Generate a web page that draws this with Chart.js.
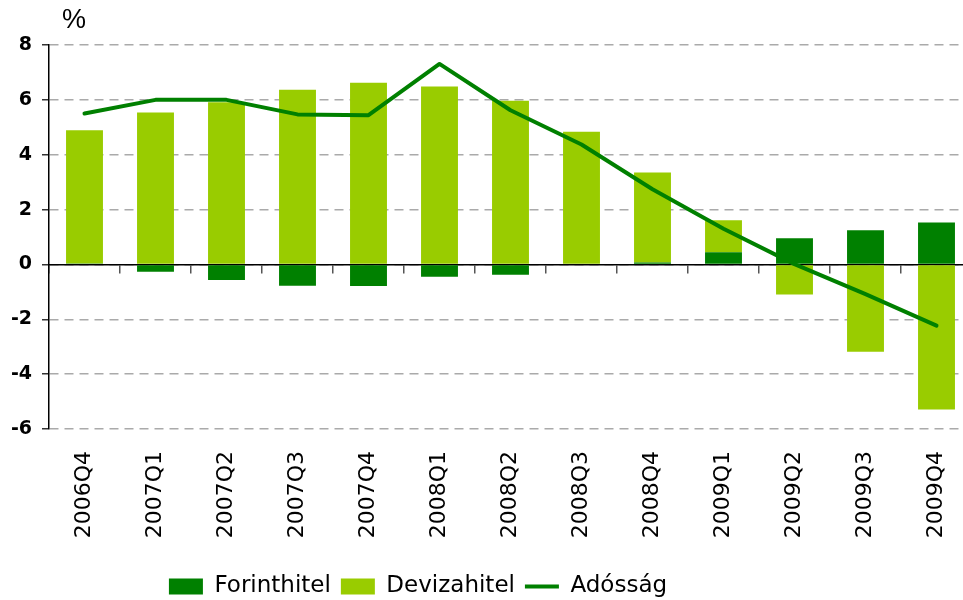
<!DOCTYPE html>
<html><head><meta charset="utf-8">
<script src="https://cdn.jsdelivr.net/npm/chart.js@4.4.1/dist/chart.umd.min.js"></script>
<style>html,body{margin:0;padding:0;overflow:hidden;background:#fff}#wrap{width:972px;height:600px}</style>
</head><body><div id="wrap"><canvas id="c" width="972" height="600"></canvas></div>
<script>
const categories = ['2006Q4','2007Q1','2007Q2','2007Q3','2007Q4','2008Q1','2008Q2','2008Q3','2008Q4','2009Q1','2009Q2','2009Q3','2009Q4'];
const forinthitel = [0.03,-0.27,-0.57,-0.78,-0.79,-0.45,-0.38,0.0,0.07,0.44,0.95,1.25,1.53];
const devizahitel = [4.86,5.54,5.91,6.37,6.62,6.49,5.97,4.84,3.28,1.17,-1.10,-3.18,-5.29];
const adossag = [5.50,6.00,6.00,5.47,5.44,7.31,5.62,4.37,2.74,1.30,0.01,-1.08,-2.23];
const seriesNames = ['Forinthitel','Devizahitel','Adósság'];
const yMin = -6, yMax = 8, yStep = 2;
const unitLabel = '%';

const DARK = '#008000', LIGHT = '#99cc00';

const percentPlugin = {
  id: 'percentLabel',
  afterDraw(chart) {
    const {ctx, chartArea} = chart;
    ctx.save();
    ctx.font = '27px "Liberation Sans", Arial, sans-serif';
    ctx.fillStyle = '#000';
    ctx.textBaseline = 'alphabetic';
    ctx.textAlign = 'left';
    ctx.fillText(unitLabel, chartArea.left + 13, chartArea.top - 17);
    ctx.restore();
  }
};
const legendShift = {
  id: 'legendShift',
  afterLayout(chart) {
    const lg = chart.legend;
    if (!lg) return;
    const dx = -68, dy = 8;
    lg.left += dx; lg.right += dx; lg.top += dy; lg.bottom += dy;
  }
};

new Chart(document.getElementById('c'), {
  type: 'bar',
  data: {
    labels: categories,
    datasets: [
      { label: seriesNames[0], data: forinthitel, backgroundColor: DARK, borderWidth: 0, pointStyle: 'rect', order: 1, xAxisID: 'x' },
      { label: seriesNames[1], data: devizahitel, backgroundColor: LIGHT, borderWidth: 0, pointStyle: 'rect', order: 1, xAxisID: 'x' },
      { type: 'line', label: seriesNames[2], data: adossag, borderColor: DARK, backgroundColor: DARK, borderWidth: 4,
        pointRadius: 0, pointHoverRadius: 0, tension: 0, pointStyle: 'line', borderCapStyle: 'round', borderJoinStyle: 'round', order: 0, xAxisID: 'x' }
    ]
  },
  options: {
    responsive: false,
    animation: false,
    devicePixelRatio: 1,
    barPercentage: 0.52,
    categoryPercentage: 1,
    layout: { padding: { top: 45, left: 0, right: 0, bottom: 0 } },
    scales: {
      x: {
        type: 'category', stacked: true, position: 'bottom', offset: true,
        grid: { display: false, drawTicks: false },
        border: { display: false },
        ticks: { maxRotation: 90, minRotation: 90, padding: 22, color: '#000',
          font: { family: '"DejaVu Sans", sans-serif', size: 22 } },
        afterFit(s) { s.height = 128; s.paddingLeft = 0; s.paddingRight = 0; }
      },
      x0: {
        type: 'category', labels: categories, position: { y: 0 }, offset: true,
        grid: { offset: true, drawOnChartArea: false, drawTicks: true, tickLength: 8, color: '#555', lineWidth: 1.5 },
        border: { display: true, color: '#000', width: 1.5 },
        ticks: { display: false },
        afterFit(s) { s.paddingLeft = 0; s.paddingRight = 0; }
      },
      y: {
        stacked: true, min: yMin, max: yMax,
        grid: { color: '#aaaaaa', lineWidth: 1.5, drawTicks: true, tickLength: 7, tickColor: '#333' },
        border: { display: true, color: '#000', width: 1.5, dash: [9, 6] },
        ticks: { stepSize: yStep, padding: 10, color: '#000',
          font: { family: '"DejaVu Sans", sans-serif', size: 19, weight: 'bold' } },
        afterFit(s) { s.width = 49; }
      }
    },
    plugins: {
      legend: {
        position: 'bottom',
        labels: { usePointStyle: true, pointStyleWidth: 34, boxHeight: 16, padding: 10, color: '#000',
          sort: (a, b) => a.datasetIndex - b.datasetIndex,
          font: { family: '"DejaVu Sans", sans-serif', size: 23, lineHeight: 1.0 } }
      },
      tooltip: { enabled: false }
    }
  },
  plugins: [percentPlugin, legendShift]
});
</script></body></html>
